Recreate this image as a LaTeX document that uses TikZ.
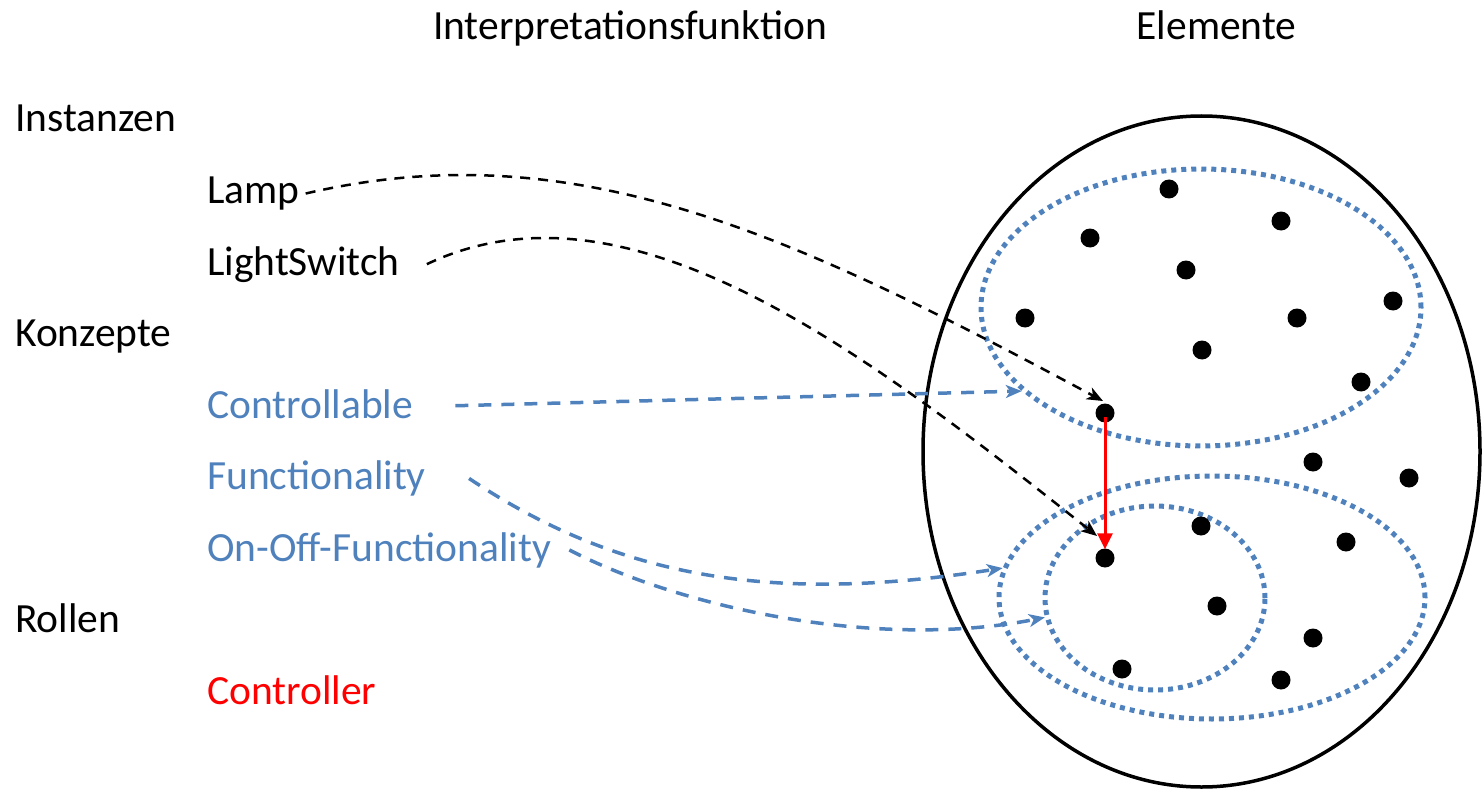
\documentclass[tikz,border=0pt]{standalone}
\usepackage{fontspec}
\setmainfont{Carlito}
\usetikzlibrary{arrows.meta,shapes.geometric}

\definecolor{ofblue}{HTML}{4F81BD}
\definecolor{ofred}{HTML}{FF0000}

\begin{document}
\begin{tikzpicture}[x=1pt,y=-1pt,
  lbl/.style={anchor=base west,inner sep=0pt,font=\fontsize{41.5}{50}\selectfont},
  ttl/.style={anchor=base,inner sep=0pt,font=\fontsize{41.5}{50}\selectfont},
  elem/.style={circle,fill=black,minimum size=19pt,inner sep=0pt},
  setring/.style={ellipse,draw=ofblue,line width=5pt,dash pattern=on 5pt off 5pt,inner sep=0pt},
  instarrow/.style={draw=black,line width=2.5pt,dash pattern=on 10pt off 8pt,
    -{Stealth[length=16pt,width=13pt,inset=4.5pt]}},
  conarrow/.style={draw=ofblue,line width=3.5pt,dash pattern=on 13pt off 10pt,
    -{Stealth[length=16pt,width=13pt,inset=4.5pt]}},
  rolearrow/.style={draw=ofred,line width=3pt,-{Triangle[length=16pt,width=15pt]}}
]
\useasboundingbox (0,0) rectangle (1484,789);

% headings
\node[ttl] (hInterp) at (630,40) {Interpretationsfunktion};
\node[ttl] (hElem) at (1216.5,40) {Elemente};

% left column
\node[lbl] (tInst) at (15,132) {Instanzen};
\node[lbl] (lamp) at (207,203.5) {Lamp};
\node[lbl] (switch) at (207,275) {LightSwitch};
\node[lbl] (tKonz) at (15,346.5) {Konzepte};
\node[lbl,text=ofblue] (ctrl) at (207,418) {Controllable};
\node[lbl,text=ofblue] (func) at (207,489.5) {Functionality};
\node[lbl,text=ofblue] (onoff) at (207,561) {On-Off-Functionality};
\node[lbl] (tRoll) at (15,632.5) {Rollen};
\node[lbl,text=ofred] (controller) at (207,704) {Controller};

% domain and its subsets
\node[ellipse,draw=black,line width=3.5pt,minimum width=557pt,minimum height=671pt,inner sep=0pt]
  (domain) at (1201.5,451.5) {};
\node[setring,minimum width=440pt,minimum height=277pt] (upper) at (1201,307.5) {};
\node[setring,minimum width=426pt,minimum height=243pt] (lower) at (1212,597.5) {};
\node[setring,minimum width=220pt,minimum height=184pt] (inner) at (1155,598) {};

% elements
\node[elem] (e1) at (1169,189) {};
\node[elem] (e2) at (1281,221) {};
\node[elem] (e3) at (1090,238) {};
\node[elem] (e4) at (1186,270) {};
\node[elem] (e5) at (1393,301) {};
\node[elem] (e6) at (1025,318) {};
\node[elem] (e7) at (1297,318) {};
\node[elem] (e8) at (1202,350) {};
\node[elem] (e9) at (1361,382) {};
\node[elem] (d1) at (1105,413) {};
\node[elem] (e10) at (1313,462) {};
\node[elem] (e11) at (1409,478) {};
\node[elem] (e12) at (1201,526) {};
\node[elem] (e13) at (1346,542) {};
\node[elem] (d2) at (1105,558) {};
\node[elem] (e14) at (1217,606) {};
\node[elem] (e15) at (1313,638) {};
\node[elem] (e16) at (1122,669) {};
\node[elem] (e17) at (1281,680) {};

% instances
\draw[instarrow] ([xshift=6pt]lamp.east) .. controls +(270,-63) and +(-308,-165) ..
  ([xshift=-2pt,yshift=12pt]d1.center);
\draw[instarrow] ([xshift=27pt]switch.east) .. controls +(200,-95) and +(-234,-186) ..
  ([xshift=-8pt,yshift=22pt]d2.center);

% concepts
\draw[conarrow] ([xshift=42pt,yshift=-2pt]ctrl.east) -- (upper.205);
\draw[conarrow] ([xshift=43pt]func.east) .. controls +(150,100) and +(-230,36) .. (lower.172);
\draw[conarrow] ([xshift=18pt]onoff.east) .. controls +(112,58) and +(-167,33) .. (inner.190);

% role
\draw[rolearrow,shorten <=4pt] (d1.center) -- ([yshift=-1pt]d2.north);
\end{tikzpicture}
\end{document}
